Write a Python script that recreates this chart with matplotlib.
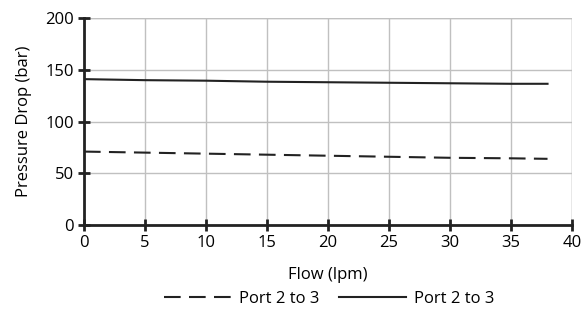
import matplotlib
matplotlib.use("Agg")
import matplotlib.pyplot as plt

plt.rcParams['font.family'] = ['Open Sans', 'DejaVu Sans']

# data
flow = [0, 5, 10, 15, 20, 25, 30, 35, 38]
port_dashed = [71, 70, 69, 68, 67, 66, 65, 64.5, 64]
port_solid = [141, 140, 139.5, 138.5, 138, 137.5, 137, 136.5, 136.5]
x_ticks = [0, 5, 10, 15, 20, 25, 30, 35, 40]
y_ticks = [0, 50, 100, 150, 200]

fig = plt.figure(figsize=(5.83, 3.17), dpi=100)
ax = fig.add_axes([0.144, 0.29, 0.837, 0.653])

ax.plot(flow, port_dashed, color='#222222', lw=1.5, ls=(0, (8, 4)), label='Port 2 to 3')
ax.plot(flow, port_solid, color='#222222', lw=1.5, label='Port 2 to 3')

ax.set_xlim(0, 40)
ax.set_ylim(0, 200)
ax.set_xticks(x_ticks)
ax.set_yticks(y_ticks)
ax.grid(True, color='#c0c0c0', lw=1)
ax.set_axisbelow(True)

for s in ['top', 'right']:
    ax.spines[s].set_visible(False)
for s in ['left', 'bottom']:
    ax.spines[s].set_linewidth(2)
    ax.spines[s].set_color('#222222')
# grey box edges at the top and right
ax.axhline(200, color='#c0c0c0', lw=1, zorder=0)
ax.axvline(40, color='#c0c0c0', lw=1, zorder=0)

ax.tick_params(direction='inout', length=8, width=2, color='#222222', labelsize=12, pad=3)

ax.set_xlabel('Flow (lpm)', fontsize=12, labelpad=12)
ax.set_ylabel('Pressure Drop (bar)', fontsize=12, labelpad=10)

fig.legend(loc='lower center', bbox_to_anchor=(0.565, -0.015), ncol=2, frameon=False,
           fontsize=12, handlelength=4, columnspacing=1.2, handletextpad=0.5)

fig.savefig('out.png', dpi=100)
